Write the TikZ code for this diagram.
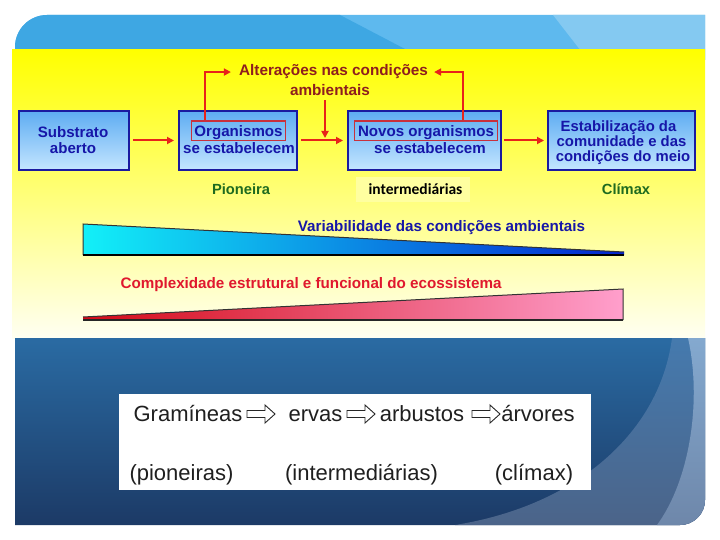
\documentclass[tikz,border=0pt]{standalone}
\usepackage{fontspec}
\setsansfont{Liberation Sans}
\newfontfamily\calibfont{Carlito}
\usetikzlibrary{arrows.meta,positioning}
\definecolor{BannerMid}{HTML}{5EB9EE}
\definecolor{BannerDark}{HTML}{3EA7E3}
\definecolor{BannerLight}{HTML}{84C9F1}
\definecolor{PanelTop}{HTML}{2A6BA3}
\definecolor{PanelBot}{HTML}{1C3A66}
\definecolor{SwooshTop}{HTML}{457AAE}
\definecolor{SwooshBot}{HTML}{4B6489}
\definecolor{EdgeTop}{HTML}{84A9CF}
\definecolor{EdgeBot}{HTML}{6E87AA}
\definecolor{SunTop}{HTML}{FFFF00}
\definecolor{SunMid}{HTML}{FFFF78}
\definecolor{SunBot}{HTML}{FFFFF2}
\definecolor{SunPatch}{HTML}{FFFFA0}
\definecolor{BoxNavy}{HTML}{1A1AA0}
\definecolor{BoxTop}{HTML}{5EACF2}
\definecolor{BoxBot}{HTML}{C4E6FF}
\definecolor{ArrowRed}{HTML}{E8231A}
\definecolor{FrameRed}{HTML}{C8303C}
\definecolor{TextNavy}{HTML}{1616A8}
\definecolor{TextMaroon}{HTML}{8E1E1E}
\definecolor{TextGreen}{HTML}{1F6B1F}
\definecolor{TextRed}{HTML}{E0182E}
\definecolor{WedgeCyan}{HTML}{12F0F8}
\definecolor{WedgeMid}{HTML}{10A0F0}
\definecolor{WedgeBlue}{HTML}{0424D0}
\definecolor{WedgeRed}{HTML}{D40A18}
\definecolor{WedgeRose}{HTML}{F25478}
\definecolor{WedgePink}{HTML}{FF9FCC}

\begin{document}
\begin{tikzpicture}[x=1pt,y=-1pt,>={Triangle[length=7pt,width=7pt]},
 stage/.style={draw=BoxNavy,line width=2pt,top color=BoxTop,bottom color=BoxBot,minimum height=59pt,inner sep=0pt},
 boxtxt/.style={anchor=base,inner sep=0pt,text=TextNavy,font=\sffamily\bfseries\fontsize{15.1}{16}\selectfont},
 redframe/.style={draw=FrameRed,line width=1.4pt,text height=14.5pt,text depth=2pt,inner ysep=1.5pt,inner xsep=0pt},
 stagetag/.style={anchor=base,inner sep=0pt,text=TextGreen,font=\sffamily\bfseries\fontsize{14.7}{16}\selectfont},
 altertxt/.style={anchor=base,inner sep=0pt,text=TextMaroon,font=\sffamily\bfseries\fontsize{15.3}{16}\selectfont},
 wedgetxt/.style={anchor=base,inner sep=0pt,font=\sffamily\bfseries\fontsize{15.2}{17}\selectfont},
 seqword/.style={anchor=base,inner sep=0pt,text=black!88,font=\sffamily\fontsize{22}{24}\selectfont},
 flow/.style={->,draw=ArrowRed,line width=2pt},
 hollow/.style={draw=black!85,line width=.9pt,fill=white}]
\useasboundingbox (0,0) rectangle (720,540);
\fill[white] (0,0) rectangle (720,540);

% slide frame
\fill[BannerMid] (15,60) -- (15,47) arc[start angle=180,end angle=270,radius=32] -- (705,15) -- (705,60) -- cycle;
\fill[BannerDark] (15,60) -- (15,47) arc[start angle=180,end angle=270,radius=32] -- (340,15) -- (426,60) -- cycle;
\fill[BannerLight] (553,15) -- (705,15) -- (705,60) -- (588,60) -- cycle;
\shade[top color=SunTop,middle color=SunMid,bottom color=SunBot] (12,50) rectangle (705,338);
\shade[top color=PanelTop,bottom color=PanelBot] (15,338) -- (705,338) -- (705,500) arc[start angle=0,end angle=90,radius=25] -- (15,525) -- cycle;
\begin{scope}
 \clip (15,338) -- (705,338) -- (705,500) arc[start angle=0,end angle=90,radius=25] -- (15,525) -- cycle;
 \shade[top color=SwooshTop,bottom color=SwooshBot] (672,338) .. controls (660,430) and (580,505) .. (455,525) -- (705,525) -- (705,338) -- cycle;
 \shade[top color=EdgeTop,bottom color=EdgeBot] (688,338) .. controls (702,400) and (690,480) .. (657,525) -- (705,525) -- (705,338) -- cycle;
\end{scope}

% succession stages
\node[stage,minimum width=110pt] (subst) at (74,140.5) {};
\node[stage,minimum width=118pt] (pioneer) at (238,140.5) {};
\node[stage,minimum width=153pt] (interm) at (424.5,140.5) {};
\node[stage,minimum width=147pt] (climax) at (621.5,140.5) {};
\node[boxtxt] (substA) at (73,138) {Substrato};
\node[boxtxt] (substB) at (73,153.5) {aberto};
\node[boxtxt,redframe,minimum width=94pt] (orgbox) at (238.5,137) {Organismos};
\node[boxtxt] (pioneerB) at (239,153.5) {se estabelecem};
\node[boxtxt,redframe,minimum width=143pt] (novbox) at (426,137) {Novos organismos};
\node[boxtxt] (intermB) at (430,153.5) {se estabelecem};
\node[boxtxt,font=\sffamily\bfseries\fontsize{14.85}{16}\selectfont] (climaxA) at (618.5,131.5) {Estabilização da};
\node[boxtxt,font=\sffamily\bfseries\fontsize{14.85}{16}\selectfont] (climaxB) at (621.5,146.5) {comunidade e das};
\node[boxtxt,font=\sffamily\bfseries\fontsize{14.85}{16}\selectfont] (climaxC) at (623,161.5) {condições do meio};

\node[altertxt] (alterA) at (333.5,76) {Alterações nas condições};
\node[altertxt] (alterB) at (330,95.7) {ambientais};

\node[stagetag] (tagP) at (241,194.5) {Pioneira};
\fill[SunPatch] (356,177) rectangle (470,202);
\node[anchor=base,inner sep=0pt,font=\calibfont\bfseries\fontsize{15.5}{17}\selectfont] (tagI) at (415.5,195) {intermediárias};
\node[stagetag] (tagC) at (626,195) {Clímax};

\coordinate (drop) at (325,138);
\draw[flow,shorten <=3pt,shorten >=4pt] (subst) -- (pioneer);
\draw[flow,shorten <=3pt,shorten >=4pt] (pioneer) -- (interm);
\draw[flow,shorten <=2pt,shorten >=3pt] (interm) -- (climax);
\draw[flow,shorten <=4pt] (alterB.south -| drop) -- (drop);
\draw[flow,shorten >=8pt] ([xshift=-34pt]orgbox.north) |- (alterA.west);
\draw[flow,shorten >=6pt] ([xshift=37pt]novbox.north) |- (alterA.east);

% gradients
\shade[left color=WedgeCyan,middle color=WedgeMid,right color=WedgeBlue] (83,224) -- (624,252) -- (624,255) -- (83,255) -- cycle;
\draw[black!80,line width=1pt] (83,255) -- (83,224) -- (624,252);
\draw[black,line width=2pt] (83,255) -- (624,255);
\node[wedgetxt,text=TextNavy] (varia) at (441.5,231) {Variabilidade das condições ambientais};
\shade[left color=WedgeRed,middle color=WedgeRose,right color=WedgePink] (83,317) -- (623,289) -- (623,320) -- (83,320) -- cycle;
\draw[black!80,line width=1pt] (83,317) -- (623,289) -- (623,320);
\draw[black!85,line width=2pt] (83,320) -- (623,320);
\node[wedgetxt,text=TextRed] (compl) at (311,288) {Complexidade estrutural e funcional do ecossistema};

% sequence panel
\fill[white] (119,394) rectangle (591,490);
\node[seqword] (gram) at (188,421) {Gramíneas};
\node[seqword] (ervas) at (315.5,421) {ervas};
\node[seqword] (arbus) at (422,421) {arbustos};
\node[seqword] (arvor) at (538,421) {árvores};
\draw[hollow,shift={(261,414)}] (-14,-3.5) -- (4,-3.5) -- (4,-9) -- (14,0) -- (4,9) -- (4,3.5) -- (-14,3.5) -- cycle;
\draw[hollow,shift={(361,414)}] (-14,-3.5) -- (4,-3.5) -- (4,-9) -- (14,0) -- (4,9) -- (4,3.5) -- (-14,3.5) -- cycle;
\draw[hollow,shift={(486,414)}] (-14,-3.5) -- (4,-3.5) -- (4,-9) -- (14,0) -- (4,9) -- (4,3.5) -- (-14,3.5) -- cycle;
\node[seqword] (pion) at (181.5,480) {(pioneiras)};
\node[seqword] (inter) at (361.5,480) {(intermediárias)};
\node[seqword] (clim) at (534,480) {(clímax)};
\end{tikzpicture}
\end{document}
